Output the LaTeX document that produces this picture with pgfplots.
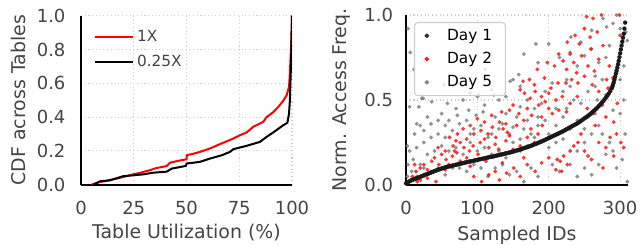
\documentclass[border=0pt]{standalone}
\usepackage{pgfplots}
\pgfplotsset{compat=1.18}
\usepackage{fontspec}
\setmainfont{DejaVu Sans}
\definecolor{txt}{RGB}{68,68,68}
\definecolor{gridc}{RGB}{205,205,205}
\definecolor{day5}{RGB}{128,128,128}
\definecolor{day2}{RGB}{255,20,20}
\begin{document}
\begin{tikzpicture}
\useasboundingbox (0,0) rectangle (480pt,183pt);
\pgfplotsset{
  common/.style={
    scale only axis,
    axis lines=left,
    axis line style={black, line width=1.5pt, -},
    tick style={draw=none},
    grid=major,
    grid style={gridc, line width=0.8pt, dash pattern=on 0.8pt off 2pt},
    ticklabel style={font=\fontsize{13.5}{15}\selectfont, text=txt},
    label style={font=\fontsize{14.2}{16}\selectfont, text=txt},
    /pgf/number format/assume math mode=true,
  }
}
% ---------------- left: CDF ----------------
\begin{axis}[common,
  at={(60.75pt,44.5pt)}, anchor=south west,
  width=158.25pt, height=126.75pt,
  xmin=0, xmax=100, ymin=0, ymax=1,
  xtick={0,25,50,75,100},
  ytick={0,0.2,0.4,0.6,0.8,1}, yticklabels={0.0,0.2,0.4,0.6,0.8,1.0},
  xlabel={Table Utilization (\%)}, ylabel={CDF across Tables},
  xlabel style={at={(axis description cs:0.5,-0.281)}, anchor=center},
  ylabel style={at={(axis description cs:-0.2986,0.5)}, anchor=center},
  xticklabel style={yshift=-6.5pt},
  yticklabel style={xshift=-6pt},
  legend style={at={(axis description cs:0.04,0.945)}, anchor=north west,
    draw=none, fill=none, font=\fontsize{11.5}{13}\selectfont, text=txt,
    row sep=4.5pt},
  legend cell align=left,
  legend image code/.code={\draw[#1, line width=1.5pt] (0pt,0pt) -- (24pt,0pt); \path (0pt,0pt) -- (29pt,0pt);},
]
\addplot[red, line width=1.5pt] coordinates {
(5,0) (7,0.008) (9,0.016) (12,0.022) (16.9,0.036) (20,0.046) (24.8,0.061)
(29.5,0.075) (33,0.087) (35.9,0.099) (40.6,0.11) (42.2,0.13) (45,0.138)
(47.7,0.145) (50,0.15) (50.2,0.175) (53,0.182) (56.4,0.194) (61.1,0.214)
(65.9,0.24) (72.2,0.273) (75.4,0.293) (78.5,0.309) (81.7,0.343) (86.4,0.372)
(88,0.40) (91.2,0.43) (93.5,0.46) (95.9,0.497) (97.5,0.53) (98.6,0.58)
(99,0.66) (99.5,0.8) (100,1.0)};
\addlegendentry{1X}
\addplot[black, line width=1.5pt] coordinates {
(5.8,0) (9,0.02) (13.7,0.026) (20,0.05) (29.5,0.061) (34.3,0.071) (40.6,0.077)
(43,0.095) (49.3,0.11) (49.8,0.112) (50,0.125) (56.4,0.135) (61,0.154)
(66.7,0.174) (70.6,0.194) (72.2,0.21) (78.5,0.23) (84.8,0.253) (88,0.283)
(91.2,0.31) (95.9,0.352) (97.8,0.366) (98.6,0.42) (99,0.5) (99.5,0.7)
(99.8,0.85) (100,1.0)};
\addlegendentry{0.25X}
\end{axis}
% ---------------- right: scatter ----------------
\begin{axis}[common,
  at={(304.5pt,44.25pt)}, anchor=south west,
  width=166.5pt, height=127.5pt,
  xmin=0, xmax=311, ymin=0, ymax=1,
  xtick={0,100,200,300},
  ytick={0,0.5,1}, yticklabels={0.0,0.5,1.0},
  xlabel={Sampled IDs}, ylabel={Norm. Access Freq.},
  xlabel style={at={(axis description cs:0.5,-0.294)}, anchor=center},
  ylabel style={at={(axis description cs:-0.288,0.5)}, anchor=center},
  xticklabel style={yshift=-6.5pt},
  yticklabel style={xshift=-4pt},
  legend style={at={(axis description cs:0.036,0.959)}, anchor=north west,
    draw=gridc, line width=0.8pt, rounded corners=2.5pt, fill=white, fill opacity=0.8,
    text opacity=1, font=\fontsize{11.5}{13}\selectfont, text=black,
    row sep=3.5pt, column sep=12pt, inner xsep=8pt, inner ysep=3pt},
  legend cell align=left,
]
\addlegendimage{only marks, mark=*, mark size=1.25pt, color=black!85}
\addlegendentry{Day 1}
\addlegendimage{only marks, mark=*, mark size=1.25pt, color=day2}
\addlegendentry{Day 2}
\addlegendimage{only marks, mark=*, mark size=1.25pt, color=day5}
\addlegendentry{Day 5}
\addplot[only marks, mark=*, mark size=1.4pt, color=day5, mark options={line width=0.1pt}, opacity=0.85, forget plot] table {
x y
6 0.78
11 0.68
5 0.46
18 0.46
24 0.51
15 0.36
3 0.92
53 0.59
90 0.54
102 0.53
123 0.53
146 0.61
111 0.68
22 0.51
36 0.49
182 0.83
165 0.77
158 0.65
231 0.87
260 0.91
58 0.48
70 0.45
80 0.50
100 0.52
110 0.47
120 0.56
130 0.50
140 0.52
150 0.62
160 0.58
185 0.72
200 0.83
215 0.75
230 0.78
245 0.84
250 0.76
260 0.80
270 0.72
280 0.75
285 0.82
290 0.95
295 1.00
276 0.98
281 0.93
300 0.92
308 0.90
310 0.85
305 0.70
295 0.66
265 0.64
240 0.70
225 0.62
205 0.60
195 0.55
255 0.55
268 0.50
280 0.53
290 0.44
300 0.42
307 0.30
303 0.15
310 0.02
260 0.30
270 0.35
250 0.33
240 0.38
230 0.33
220 0.40
210 0.35
200 0.30
195 0.38
185 0.40
175 0.30
165 0.33
155 0.40
145 0.30
140 0.42
130 0.33
125 0.40
115 0.28
105 0.35
95 0.33
85 0.38
75 0.36
65 0.32
55 0.35
45 0.30
35 0.28
25 0.25
15 0.22
5 0.20
10 0.15
20 0.12
30 0.18
40 0.20
50 0.23
60 0.20
70 0.22
80 0.18
90 0.25
100 0.20
110 0.22
120 0.18
130 0.20
140 0.16
150 0.25
160 0.20
170 0.23
180 0.28
190 0.26
200 0.22
210 0.25
220 0.27
230 0.12
240 0.05
250 0.10
260 0.06
270 0.12
280 0.18
290 0.20
215 0.08
205 0.12
185 0.05
175 0.10
165 0.02
155 0.08
145 0.06
135 0.12
125 0.10
115 0.05
105 0.10
95 0.12
85 0.08
75 0.10
65 0.10
55 0.06
45 0.10
35 0.08
25 0.10
15 0.05
8 0.08
3 0.12
2 0.23
2 0.05
12 0.30
20 0.35
30 0.40
50 0.42
45 0.38
90 0.30
120 0.30
135 0.36
160 0.27
185 0.35
225 0.45
235 0.50
245 0.48
255 0.40
265 0.42
275 0.30
285 0.25
295 0.10
250 0.25
60 0.38
88 0.44
72 0.41
98 0.41
108 0.43
35 0.36
25 0.32
55 0.28
150 0.34
170 0.38
180 0.45
190 0.48
210 0.45
220 0.55
230 0.58
265 0.58
275 0.62
170 0.50
160 0.46
240 0.20
300 0.62
305 0.50
};
\addplot[only marks, mark=*, mark size=1.4pt, color=day2, mark options={line width=0.1pt}, opacity=0.85, forget plot] table {
x y
253 0.99
274 1.00
299 1.00
262 0.98
250 0.92
237 0.88
258 0.87
268 0.90
243 0.83
226 0.84
259 0.80
276 0.82
230 0.77
246 0.76
214 0.77
220 0.73
235 0.72
255 0.70
270 0.74
198 0.72
208 0.70
225 0.68
239 0.66
250 0.64
264 0.67
281 0.62
290 0.63
184 0.68
194 0.63
173 0.62
164 0.61
180 0.59
213 0.60
203 0.57
224 0.60
241 0.60
261 0.59
300 0.88
306 0.89
285 0.70
232 0.62
160 0.56
166 0.54
181 0.55
190 0.52
200 0.54
174 0.51
195 0.49
210 0.50
219 0.52
230 0.48
150 0.47
145 0.44
170 0.45
186 0.47
200 0.45
214 0.44
134 0.43
158 0.42
176 0.41
190 0.40
205 0.42
254 0.45
262 0.42
275 0.47
280 0.40
291 0.37
296 0.48
270 0.55
283 0.57
240 0.52
225 0.43
120 0.41
100 0.39
110 0.37
121 0.34
131 0.37
140 0.36
90 0.35
80 0.33
95 0.30
105 0.32
115 0.30
126 0.28
136 0.33
145 0.29
155 0.35
165 0.38
175 0.33
185 0.30
61 0.28
70 0.26
76 0.25
85 0.27
94 0.23
104 0.25
116 0.22
125 0.24
140 0.26
150 0.21
160 0.23
170 0.28
180 0.25
191 0.35
45 0.22
55 0.20
66 0.23
81 0.22
89 0.20
101 0.18
72 0.30
110 0.27
130 0.21
142 0.31
68 0.20
4 0.02
9 0.05
14 0.08
20 0.10
25 0.12
30 0.09
36 0.14
40 0.16
46 0.12
50 0.18
56 0.15
60 0.12
65 0.17
71 0.19
76 0.14
85 0.16
95 0.05
106 0.02
116 0.06
125 0.08
131 0.03
141 0.07
151 0.10
160 0.05
170 0.12
181 0.08
190 0.13
200 0.16
210 0.09
216 0.14
221 0.17
230 0.20
235 0.23
241 0.25
250 0.20
255 0.17
260 0.15
270 0.25
276 0.10
286 0.28
295 0.30
301 0.25
305 0.22
291 0.17
226 0.12
212 0.15
218 0.08
20 0.03
30 0.04
12 0.12
42 0.02
25 0.06
2 0.01
7 0.03
16 0.02
35 0.07
55 0.09
90 0.11
112 0.14
135 0.13
165 0.16
245 0.30
265 0.35
280 0.22
};
\addplot[only marks, mark=*, mark size=1.55pt, color=black!90, mark options={line width=0.1pt}, forget plot] table {
x y
0 .010
2 .016
4 .020
6 .024
8 .028
10 .032
12 .035
14 .038
16 .042
18 .045
20 .048
22 .052
24 .055
26 .058
28 .062
30 .065
32 .068
34 .072
36 .075
38 .078
40 .082
42 .085
44 .088
46 .091
48 .094
50 .097
52 .099
54 .102
56 .105
58 .107
60 .109
62 .111
64 .113
66 .115
68 .117
70 .119
72 .121
74 .123
76 .125
78 .127
80 .129
82 .131
84 .133
86 .135
88 .137
90 .139
92 .140
94 .142
96 .144
98 .146
100 .148
102 .150
104 .152
106 .154
108 .155
110 .157
112 .159
114 .161
116 .163
118 .165
120 .166
122 .168
124 .170
126 .172
128 .174
130 .176
132 .178
134 .180
136 .182
138 .184
140 .186
142 .188
144 .190
146 .192
148 .194
150 .197
152 .199
154 .202
156 .204
158 .207
160 .209
162 .212
164 .215
166 .218
168 .220
170 .223
172 .226
174 .229
176 .232
178 .236
180 .239
182 .242
184 .246
186 .249
188 .253
190 .256
192 .260
194 .264
196 .268
198 .272
200 .276
202 .280
204 .284
206 .288
208 .292
210 .296
212 .300
214 .304
216 .308
218 .312
220 .317
222 .321
224 .326
226 .330
228 .335
230 .340
232 .344
234 .349
236 .354
238 .358
240 .363
242 .368
244 .374
246 .380
248 .386
250 .392
252 .398
254 .404
256 .410
258 .417
260 .424
262 .432
264 .439
266 .447
268 .455
270 .464
272 .473
274 .483
276 .492
278 .503
280 .514
282 .525
284 .538
286 .552
288 .568
289 .578
290 .590
291 .604
292 .620
293 .637
294 .655
295 .672
296 .690
297 .710
298 .730
299 .752
300 .775
301 .798
302 .820
303 .843
304 .866
305 .890
306 .920
307 .955
};
\end{axis}
\end{tikzpicture}
\end{document}
